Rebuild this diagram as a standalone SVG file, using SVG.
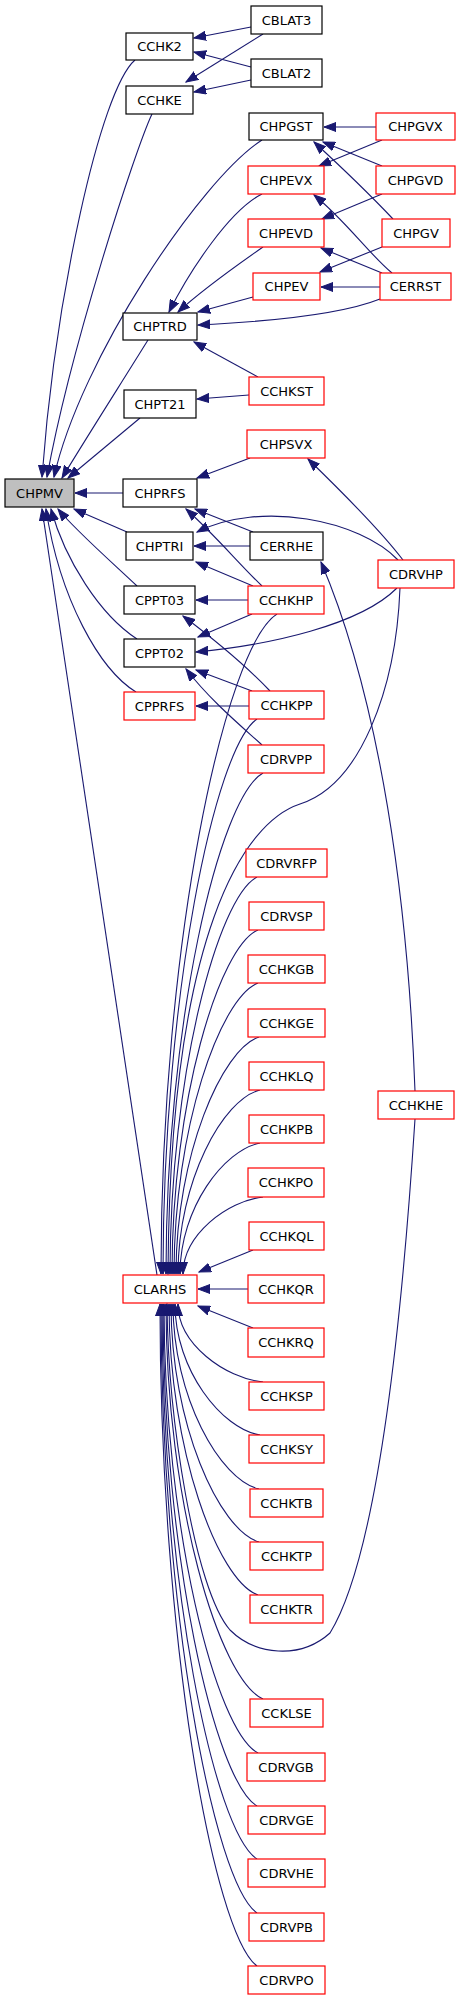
<svg xmlns="http://www.w3.org/2000/svg" width="461" height="2000" viewBox="0 0 461 2000">
<style>
.n rect{fill:#fff;stroke:#000;stroke-width:1.2}
.r rect{fill:#fff;stroke:#ff0000;stroke-width:1.2}
.g rect{fill:#bfbfbf;stroke:#000;stroke-width:1.2}
text{font-family:"DejaVu Sans",Verdana,sans-serif;font-size:13px;fill:#000;text-anchor:middle}
#edges path{fill:none;stroke:#191970;stroke-width:1.1;marker-end:url(#a)}
</style>
<defs>
<marker id="a" markerUnits="userSpaceOnUse" markerWidth="13" markerHeight="10" refX="12" refY="5" orient="auto">
<path d="M0,0.5 L12,5 L0,9.5 Z" fill="#191970" stroke="#191970" stroke-width="1"/>
</marker>
</defs>
<rect width="461" height="2000" fill="#fff"/>
<g id="edges">
<path d="M135,60 C100,90 55,300 42,477"/>
<path d="M152,114 C135,150 70,350 47,477"/>
<path d="M262,140 C200,180 80,360 54,477"/>
<path d="M148,340 C120,385 85,440 62,478"/>
<path d="M140,418 L68,478"/>
<path d="M123,493 L75,493"/>
<path d="M127,532 L74,509"/>
<path d="M137,586 C115,565 75,530 58,509"/>
<path d="M137,639 C100,615 65,560 51,509"/>
<path d="M136,692 C100,670 60,600 46,509"/>
<path d="M157,1275 L42,509"/>
<path d="M251,27 L194,38"/>
<path d="M251,67 L194,52"/>
<path d="M263,34 L186,82"/>
<path d="M251,80 L194,92"/>
<path d="M376,127 L324,127"/>
<path d="M382,166 L323,142"/>
<path d="M393,219 C375,200 350,175 314,142"/>
<path d="M382,140 L319,166"/>
<path d="M392,273 C370,255 345,220 314,195"/>
<path d="M382,194 L322,219"/>
<path d="M382,273 L321,248"/>
<path d="M382,247 L320,272"/>
<path d="M380,287 L321,287"/>
<path d="M262,194 C230,210 190,270 169,312"/>
<path d="M263,247 C230,270 200,292 178,312"/>
<path d="M253,297 L198,312"/>
<path d="M380,299 C340,315 260,322 198,325"/>
<path d="M258,377 L194,342"/>
<path d="M249,395 L197,399"/>
<path d="M250,458 L197,478"/>
<path d="M403,560 C380,530 340,490 308,459"/>
<path d="M398,560 C360,520 260,500 197,532"/>
<path d="M253,532 L195,509"/>
<path d="M262,586 C240,565 215,535 186,509"/>
<path d="M250,546 L194,546"/>
<path d="M253,586 L196,562"/>
<path d="M248,600 L196,600"/>
<path d="M270,691 C250,670 215,640 183,616"/>
<path d="M252,614 L198,637"/>
<path d="M397,588 C360,625 270,645 196,652"/>
<path d="M252,691 L196,670"/>
<path d="M262,745 C240,725 210,700 186,669"/>
<path d="M249,706 L196,706"/>
<path d="M415,1091 C408,900 380,700 321,562"/>
<path d="M277,614 C225,647 161,944 161,1274"/>
<path d="M257,719 C215,747 163,996 163,1274"/>
<path d="M263,773 C219,798 166,1023 166,1274"/>
<path d="M400,588 C396,690 360,785 300,804 C245,822 170,930 168,1274"/>
<path d="M257,877 C218,897 170,1075 170,1274"/>
<path d="M258,930 C219,947 172,1101 172,1274"/>
<path d="M258,983 C220,998 174,1128 174,1274"/>
<path d="M259,1037 C222,1049 176,1155 176,1274"/>
<path d="M260,1090 C223,1099 178,1181 178,1274"/>
<path d="M260,1143 C224,1150 180,1208 180,1274"/>
<path d="M263,1197 C227,1201 183,1235 183,1274"/>
<path d="M253,1250 L199,1272"/>
<path d="M248,1289 L198,1289"/>
<path d="M253,1328 L198,1306"/>
<path d="M263,1382 C225,1378 178,1344 178,1304"/>
<path d="M260,1435 C222,1429 175,1370 175,1304"/>
<path d="M259,1489 C220,1480 173,1397 173,1304"/>
<path d="M259,1542 C219,1530 171,1424 171,1304"/>
<path d="M258,1595 C218,1581 169,1450 169,1304"/>
<path d="M415,1119 C400,1350 375,1560 330,1633 C300,1660 255,1655 230,1630 C195,1590 168,1420 167,1304"/>
<path d="M263,1699 C219,1679 166,1502 166,1304"/>
<path d="M258,1753 C216,1731 164,1529 164,1304"/>
<path d="M257,1806 C215,1781 163,1556 163,1304"/>
<path d="M257,1859 C214,1831 162,1582 162,1304"/>
<path d="M257,1913 C214,1883 161,1609 161,1304"/>
<path d="M257,1966 C213,1933 160,1636 160,1304"/>
</g>
<g id="node-CHPMV" class="g"><rect x="5" y="479" width="69" height="28"/><text x="39.5" y="497.5">CHPMV</text></g>
<g id="node-CCHK2" class="n"><rect x="126" y="33" width="67" height="27"/><text x="159.5" y="51">CCHK2</text></g>
<g id="node-CCHKE" class="n"><rect x="126" y="86" width="67" height="28"/><text x="159.5" y="104.5">CCHKE</text></g>
<g id="node-CHPTRD" class="n"><rect x="123" y="313" width="74" height="27"/><text x="160" y="331">CHPTRD</text></g>
<g id="node-CHPT21" class="n"><rect x="124" y="390" width="72" height="28"/><text x="160" y="408.5">CHPT21</text></g>
<g id="node-CHPRFS" class="n"><rect x="123" y="479" width="74" height="28"/><text x="160" y="497.5">CHPRFS</text></g>
<g id="node-CHPTRI" class="n"><rect x="126" y="532" width="67" height="28"/><text x="159.5" y="550.5">CHPTRI</text></g>
<g id="node-CPPT03" class="n"><rect x="124" y="586" width="71" height="28"/><text x="159.5" y="604.5">CPPT03</text></g>
<g id="node-CPPT02" class="n"><rect x="124" y="639" width="71" height="28"/><text x="159.5" y="657.5">CPPT02</text></g>
<g id="node-CPPRFS" class="r"><rect x="124" y="692" width="71" height="28"/><text x="159.5" y="710.5">CPPRFS</text></g>
<g id="node-CLARHS" class="r"><rect x="123" y="1275" width="74" height="28"/><text x="160" y="1293.5">CLARHS</text></g>
<g id="node-CBLAT3" class="n"><rect x="251" y="6" width="71" height="28"/><text x="286.5" y="24.5">CBLAT3</text></g>
<g id="node-CBLAT2" class="n"><rect x="251" y="59" width="71" height="28"/><text x="286.5" y="77.5">CBLAT2</text></g>
<g id="node-CHPGST" class="n"><rect x="249" y="113" width="74" height="27"/><text x="286" y="131">CHPGST</text></g>
<g id="node-CHPEVX" class="r"><rect x="248" y="166" width="76" height="28"/><text x="286" y="184.5">CHPEVX</text></g>
<g id="node-CHPEVD" class="r"><rect x="248" y="219" width="76" height="28"/><text x="286" y="237.5">CHPEVD</text></g>
<g id="node-CHPEV" class="r"><rect x="253" y="273" width="67" height="27"/><text x="286.5" y="291">CHPEV</text></g>
<g id="node-CCHKST" class="r"><rect x="249" y="377" width="75" height="28"/><text x="286.5" y="395.5">CCHKST</text></g>
<g id="node-CHPSVX" class="r"><rect x="247" y="430" width="78" height="28"/><text x="286" y="448.5">CHPSVX</text></g>
<g id="node-CERRHE" class="n"><rect x="250" y="532" width="73" height="28"/><text x="286.5" y="550.5">CERRHE</text></g>
<g id="node-CCHKHP" class="r"><rect x="248" y="586" width="76" height="28"/><text x="286" y="604.5">CCHKHP</text></g>
<g id="node-CCHKPP" class="r"><rect x="249" y="691" width="75" height="28"/><text x="286.5" y="709.5">CCHKPP</text></g>
<g id="node-CDRVPP" class="r"><rect x="248" y="745" width="76" height="28"/><text x="286" y="763.5">CDRVPP</text></g>
<g id="node-CDRVRFP" class="r"><rect x="246" y="849" width="81" height="28"/><text x="286.5" y="867.5">CDRVRFP</text></g>
<g id="node-CDRVSP" class="r"><rect x="249" y="902" width="75" height="28"/><text x="286.5" y="920.5">CDRVSP</text></g>
<g id="node-CCHKGB" class="r"><rect x="248" y="955" width="77" height="28"/><text x="286.5" y="973.5">CCHKGB</text></g>
<g id="node-CCHKGE" class="r"><rect x="248" y="1009" width="77" height="28"/><text x="286.5" y="1027.5">CCHKGE</text></g>
<g id="node-CCHKLQ" class="r"><rect x="249" y="1062" width="75" height="28"/><text x="286.5" y="1080.5">CCHKLQ</text></g>
<g id="node-CCHKPB" class="r"><rect x="249" y="1115" width="75" height="28"/><text x="286.5" y="1133.5">CCHKPB</text></g>
<g id="node-CCHKPO" class="r"><rect x="248" y="1168" width="76" height="29"/><text x="286" y="1187">CCHKPO</text></g>
<g id="node-CCHKQL" class="r"><rect x="249" y="1222" width="75" height="28"/><text x="286.5" y="1240.5">CCHKQL</text></g>
<g id="node-CCHKQR" class="r"><rect x="248" y="1275" width="76" height="28"/><text x="286" y="1293.5">CCHKQR</text></g>
<g id="node-CCHKRQ" class="r"><rect x="248" y="1328" width="76" height="29"/><text x="286" y="1347">CCHKRQ</text></g>
<g id="node-CCHKSP" class="r"><rect x="249" y="1382" width="75" height="28"/><text x="286.5" y="1400.5">CCHKSP</text></g>
<g id="node-CCHKSY" class="r"><rect x="249" y="1435" width="75" height="28"/><text x="286.5" y="1453.5">CCHKSY</text></g>
<g id="node-CCHKTB" class="r"><rect x="250" y="1489" width="73" height="28"/><text x="286.5" y="1507.5">CCHKTB</text></g>
<g id="node-CCHKTP" class="r"><rect x="250" y="1542" width="73" height="28"/><text x="286.5" y="1560.5">CCHKTP</text></g>
<g id="node-CCHKTR" class="r"><rect x="250" y="1595" width="73" height="28"/><text x="286.5" y="1613.5">CCHKTR</text></g>
<g id="node-CCKLSE" class="r"><rect x="250" y="1699" width="73" height="28"/><text x="286.5" y="1717.5">CCKLSE</text></g>
<g id="node-CDRVGB" class="r"><rect x="247" y="1753" width="78" height="28"/><text x="286" y="1771.5">CDRVGB</text></g>
<g id="node-CDRVGE" class="r"><rect x="248" y="1806" width="77" height="28"/><text x="286.5" y="1824.5">CDRVGE</text></g>
<g id="node-CDRVHE" class="r"><rect x="248" y="1859" width="77" height="28"/><text x="286.5" y="1877.5">CDRVHE</text></g>
<g id="node-CDRVPB" class="r"><rect x="249" y="1913" width="75" height="28"/><text x="286.5" y="1931.5">CDRVPB</text></g>
<g id="node-CDRVPO" class="r"><rect x="248" y="1966" width="77" height="28"/><text x="286.5" y="1984.5">CDRVPO</text></g>
<g id="node-CHPGVX" class="r"><rect x="376" y="113" width="79" height="27"/><text x="415.5" y="131">CHPGVX</text></g>
<g id="node-CHPGVD" class="r"><rect x="376" y="166" width="79" height="28"/><text x="415.5" y="184.5">CHPGVD</text></g>
<g id="node-CHPGV" class="r"><rect x="382" y="219" width="68" height="28"/><text x="416" y="237.5">CHPGV</text></g>
<g id="node-CERRST" class="r"><rect x="380" y="273" width="71" height="27"/><text x="415.5" y="291">CERRST</text></g>
<g id="node-CDRVHP" class="r"><rect x="378" y="560" width="76" height="28"/><text x="416" y="578.5">CDRVHP</text></g>
<g id="node-CCHKHE" class="r"><rect x="378" y="1091" width="76" height="28"/><text x="416" y="1109.5">CCHKHE</text></g>
</svg>
